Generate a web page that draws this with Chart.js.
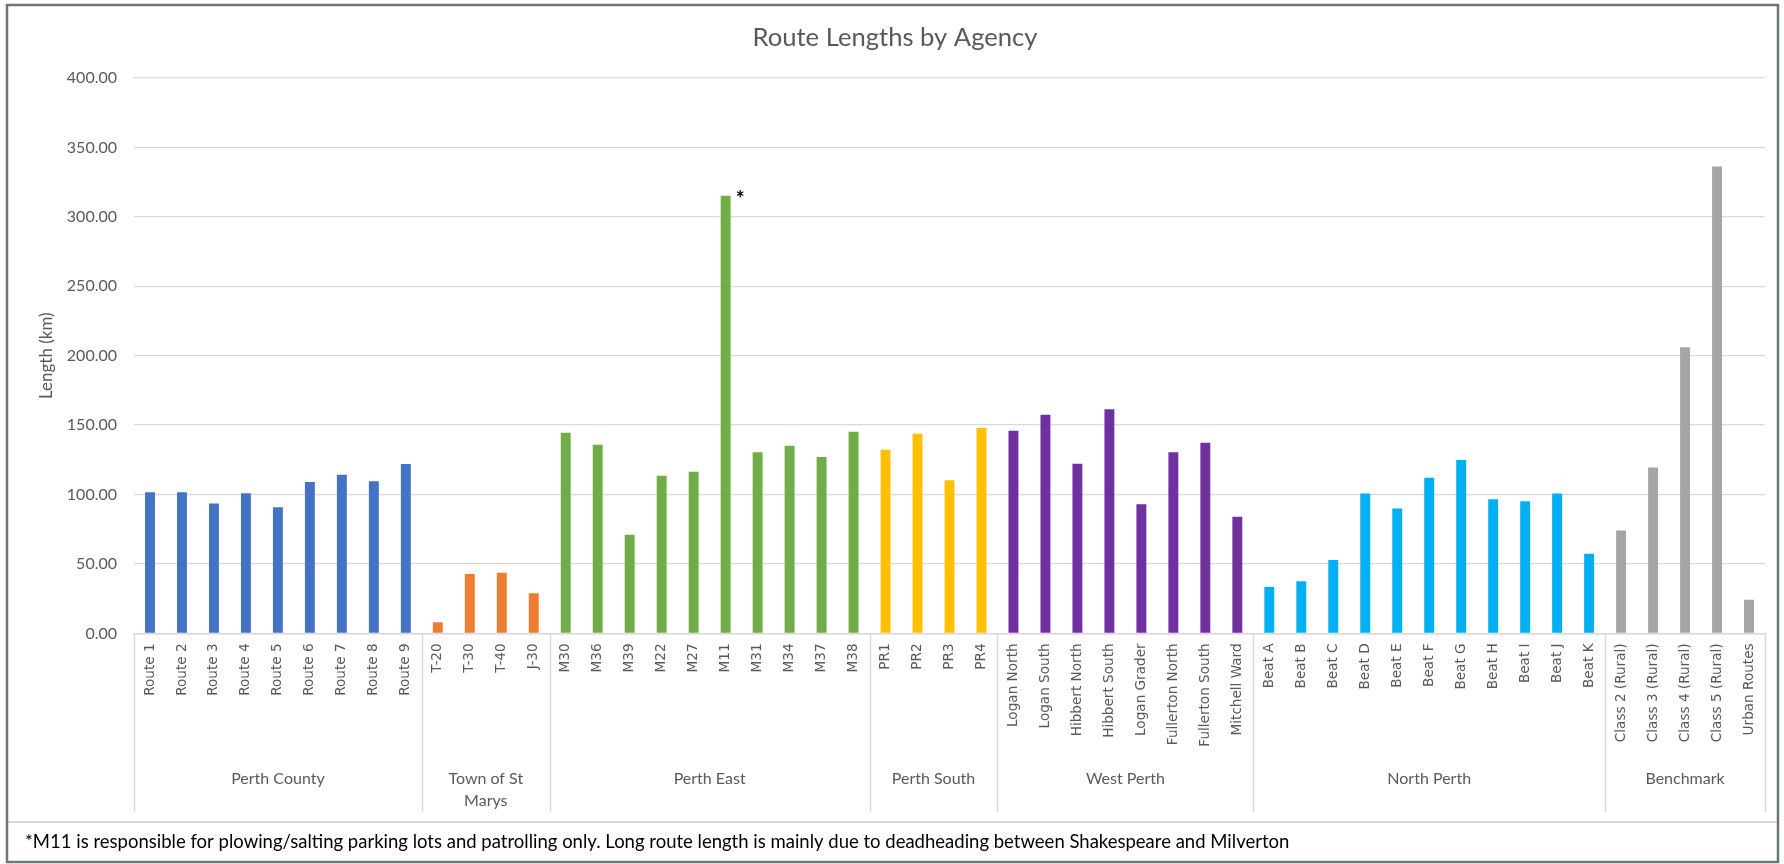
<!DOCTYPE html>
<html>
<head>
<meta charset="utf-8">
<title>Route Lengths by Agency</title>
<script src="https://cdn.jsdelivr.net/npm/chart.js@4.4.1/dist/chart.umd.min.js"></script>
<style>
    html, body { margin: 0; padding: 0; background: #fff; }
    #wrap { width: 1784px; height: 864px; }
</style>
</head>
<body>
<div id="wrap"><canvas id="routes" width="1784" height="864"></canvas></div>
<script>
// ---- Data ----
const routes = [
    'Route 1', 'Route 2', 'Route 3', 'Route 4', 'Route 5', 'Route 6', 'Route 7', 'Route 8', 'Route 9',
    'T-20', 'T-30', 'T-40', 'J-30',
    'M30', 'M36', 'M39', 'M22', 'M27', 'M11', 'M31', 'M34', 'M37', 'M38',
    'PR1', 'PR2', 'PR3', 'PR4',
    'Logan North', 'Logan South', 'Hibbert North', 'Hibbert South', 'Logan Grader', 'Fullerton North', 'Fullerton South', 'Mitchell Ward',
    'Beat A', 'Beat B', 'Beat C', 'Beat D', 'Beat E', 'Beat F', 'Beat G', 'Beat H', 'Beat I', 'Beat J', 'Beat K',
    'Class 2 (Rural)', 'Class 3 (Rural)', 'Class 4 (Rural)', 'Class 5 (Rural)', 'Urban Routes'
];

const lengths = [
    101.7, 101.7, 93.5, 100.9, 90.9, 109.1, 114.3, 109.6, 122.0,
    8.0, 42.8, 43.6, 28.9,
    144.6, 135.9, 71.1, 113.6, 116.5, 315.2, 130.5, 135.2, 127.1, 145.3,
    132.3, 143.8, 110.3, 147.9,
    146.0, 157.5, 122.1, 161.5, 93.0, 130.5, 137.4, 84.1,
    33.5, 37.6, 52.9, 100.8, 90.0, 112.1, 124.9, 96.6, 95.1, 100.7, 57.4,
    74.2, 119.5, 206.1, 336.2, 24.2
];

// agencies in order, with how many routes each one owns
const agencies = ['Perth County', ['Town of St', 'Marys'], 'Perth East', 'Perth South', 'West Perth', 'North Perth', 'Benchmark'];
const agencyRouteCounts = [9, 4, 10, 4, 8, 11, 5];
const agencyColors = ['#4472C4', '#ED7D31', '#70AD47', '#FFC000', '#7030A0', '#00B0F0', '#A5A5A5'];

const yTicks = [0, 50, 100, 150, 200, 250, 300, 350, 400];

const starredRoute = 'M11';
const footnote = '*M11 is responsible for plowing/salting parking lots and patrolling only. Long route length is mainly due to deadheading between Shakespeare and Milverton';

// one colour per bar, taken from its agency
const barColors = [];
agencyRouteCounts.forEach((n, i) => {
    for (let k = 0; k < n; k++) barColors.push(agencyColors[i]);
});

const GRID = '#d9d9d9';
const TEXT = '#595959';

// ---- Agency labels, separators, frame ----
const agencyAxisPlugin = {
    id: 'agencyAxis',
    afterDraw(chart) {
        const { ctx, scales: { x }, chartArea } = chart;
        const axisY = chartArea.bottom;
        const boxBottom = 812;
        const half = (x.getPixelForValue(1) - x.getPixelForValue(0)) / 2;

        ctx.save();
        ctx.strokeStyle = GRID;
        ctx.lineWidth = 1.5;

        // vertical separators between agencies
        let start = 0;
        const edges = [x.getPixelForValue(0) - half];
        agencyRouteCounts.forEach(n => {
            start += n;
            edges.push(x.getPixelForValue(start - 1) + half);
        });
        edges.forEach(px => {
            ctx.beginPath();
            ctx.moveTo(Math.round(px) + 0.5, axisY);
            ctx.lineTo(Math.round(px) + 0.5, boxBottom);
            ctx.stroke();
        });

        // agency names
        ctx.fillStyle = TEXT;
        ctx.font = '16px Lato';
        ctx.textAlign = 'center';
        ctx.textBaseline = 'middle';
        agencies.forEach((name, i) => {
            const cx = (edges[i] + edges[i + 1]) / 2;
            const lines = Array.isArray(name) ? name : [name];
            lines.forEach((line, j) => ctx.fillText(line, cx, 779 + j * 22));
        });

        // line above the footnote
        ctx.lineWidth = 2;
        ctx.beginPath();
        ctx.moveTo(7, 822);
        ctx.lineTo(1778, 822);
        ctx.stroke();

        // asterisk next to the starred route
        const idx = routes.indexOf(starredRoute);
        const bar = chart.getDatasetMeta(0).data[idx];
        ctx.fillStyle = '#000';
        ctx.font = 'bold 21px Lato';
        ctx.textAlign = 'left';
        ctx.fillText('*', bar.x + 10, bar.y + 3);

        // outer frame
        ctx.strokeStyle = '#6b7777';
        ctx.lineWidth = 2.5;
        ctx.strokeRect(7, 5, 1771, 857);
        ctx.restore();
    }
};

Chart.defaults.font.family = 'Lato';
Chart.defaults.color = TEXT;

const config = {
    type: 'bar',
    data: {
        labels: routes,
        datasets: [{
            data: lengths,
            backgroundColor: barColors,
            borderWidth: 0,
            barPercentage: 0.31,
            categoryPercentage: 1.0
        }]
    },
    options: {
        responsive: false,
        animation: false,
        layout: { padding: { top: 0, left: 25, right: 19, bottom: 0 } },
        plugins: {
            legend: { display: false },
            tooltip: { enabled: false },
            title: {
                display: true,
                text: 'Route Lengths by Agency',
                color: TEXT,
                font: { size: 25.6, weight: 'normal' },
                padding: { top: 22, bottom: 25.3 }
            },
            subtitle: {
                display: true,
                position: 'bottom',
                align: 'start',
                text: footnote,
                color: '#000',
                font: { size: 18.5 },
                padding: { top: 9, bottom: 10.4 }
            }
        },
        scales: {
            x: {
                grid: { display: true, drawOnChartArea: false, drawTicks: false },
                border: { display: true, color: GRID, width: 1.5 },
                ticks: {
                    autoSkip: false,
                    minRotation: 90,
                    maxRotation: 90,
                    padding: 10,
                    color: TEXT,
                    font: { family: 'DejaVu Sans', size: 13.6 }
                },
                afterFit(scale) { scale.height = 189; }
            },
            y: {
                min: 0,
                max: 400,
                afterBuildTicks(scale) { scale.ticks = yTicks.map(v => ({ value: v })); },
                grid: { color: GRID, lineWidth: 1.3, drawTicks: false },
                border: { display: false },
                ticks: {
                    padding: 17,
                    color: TEXT,
                    font: { size: 16 },
                    callback: v => Number(v).toFixed(2)
                },
                title: {
                    display: true,
                    text: 'Length (km)',
                    color: TEXT,
                    font: { size: 17 },
                    padding: { top: 11, bottom: 0 }
                },
                afterFit(scale) { scale.width = 109; }
            }
        }
    },
    plugins: [agencyAxisPlugin]
};

new Chart(document.getElementById('routes').getContext('2d'), config);
</script>
</body>
</html>
